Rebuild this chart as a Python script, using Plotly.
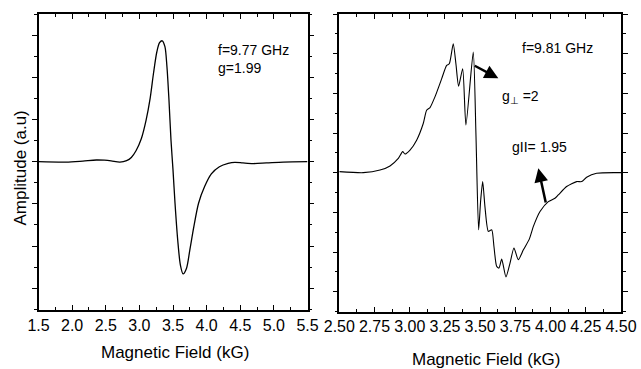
import plotly.graph_objects as go

# Left panel: f = 9.77 GHz
left_field = [1.50, 1.91, 2.16, 2.36, 2.48, 2.58, 2.71, 2.81, 2.88, 2.95, 3.03, 3.10, 3.16, 3.21,
              3.26, 3.30, 3.34, 3.38, 3.41, 3.44, 3.47, 3.50, 3.53, 3.57, 3.61, 3.65, 3.70, 3.75,
              3.81, 3.88, 3.97, 4.07, 4.19, 4.32, 4.42, 4.54, 4.69, 4.89, 5.14, 5.50]
left_amp = [0.00, -0.02, 0.03, 0.08, 0.07, 0.04, -0.02, 0.05, 0.20, 0.52, 1.10, 1.97, 3.00, 4.19,
            5.21, 5.64, 5.73, 5.45, 4.50, 2.92, 1.03, -0.39, -1.97, -3.71, -4.90, -5.32, -5.06, -4.19,
            -3.08, -1.97, -1.18, -0.58, -0.24, -0.08, -0.03, -0.06, -0.09, -0.06, -0.02, 0.00]

# Right panel: f = 9.81 GHz
right_field = [2.500, 2.670, 2.789, 2.860, 2.919, 2.950, 2.966, 3.002, 3.049, 3.096, 3.120, 3.144,
               3.179, 3.227, 3.262, 3.281, 3.309, 3.328, 3.347, 3.376, 3.399, 3.451, 3.470, 3.489,
               3.504, 3.518, 3.534, 3.558, 3.582, 3.598, 3.617, 3.634, 3.653, 3.683, 3.712, 3.740,
               3.771, 3.807, 3.849, 3.878, 3.925, 3.984, 4.031, 4.055, 4.114, 4.185, 4.221, 4.256,
               4.327, 4.500]
right_amp = [0.05, 0.00, 0.13, 0.34, 0.72, 1.06, 0.94, 1.14, 1.64, 2.48, 3.15, 3.28,
             3.82, 4.74, 5.41, 5.49, 6.50, 5.49, 4.36, 5.24, 2.40, 6.08, 1.98, -2.88,
             -1.37, -0.45, -1.71, -2.96, -2.88, -3.72, -4.72, -4.81, -4.36, -5.26, -4.56, -3.80,
             -4.39, -3.89, -3.35, -2.71, -1.96, -1.46, -1.29, -1.12, -0.70, -0.45, -0.45, -0.23,
             -0.03, 0.00]

FONT = "Liberation Sans, Arial, sans-serif"
W, H = 641, 369

fig = go.Figure()
fig.add_trace(go.Scatter(x=left_field, y=left_amp, mode="lines", xaxis="x", yaxis="y",
                         line=dict(color="black", width=1.3, shape="spline", smoothing=0.8),
                         showlegend=False, hoverinfo="skip"))
fig.add_trace(go.Scatter(x=right_field, y=right_amp, mode="lines", xaxis="x2", yaxis="y2",
                         line=dict(color="black", width=1.1, shape="spline", smoothing=0.6),
                         showlegend=False, hoverinfo="skip"))

common_x = dict(ticks="inside", ticklen=5, tickwidth=1, tickcolor="black", showline=True,
                linewidth=1.5, linecolor="black", mirror="allticks", showgrid=False,
                zeroline=False, tickangle=0, automargin=False,
                tickfont=dict(family=FONT, size=16, color="black"))
common_y = dict(ticks="outside", ticklen=5, tickwidth=1, tickcolor="black", showline=True,
                linewidth=1.5, linecolor="black", mirror="allticks", showgrid=False,
                zeroline=False, showticklabels=False, tick0=0, dtick=2, automargin=False,
                minor=dict(ticks="outside", ticklen=3, dtick=1, tick0=0, tickcolor="black",
                           showgrid=False))

fig.update_layout(
    width=W, height=H, margin=dict(l=0, r=0, t=0, b=0, pad=0, autoexpand=False),
    paper_bgcolor="white", plot_bgcolor="white",
    font=dict(family=FONT, color="black"),
    xaxis=dict(domain=[38.5 / W, 307.5 / W], range=[1.5, 5.5], tick0=1.5, dtick=0.5,
               tickformat=".1f", anchor="y",
               minor=dict(ticks="inside", ticklen=3, dtick=0.25, tick0=1.5, tickcolor="black",
                          showgrid=False), **common_x),
    yaxis=dict(domain=[(H - 310) / H, (H - 14) / H], range=[-7.03, 7.0], anchor="x", **common_y),
    xaxis2=dict(domain=[339.3 / W, 621 / W], range=[2.5, 4.5], tick0=2.5, dtick=0.25,
                tickformat=".2f", anchor="y2",
                minor=dict(ticks="inside", ticklen=3, dtick=0.125, tick0=2.5, tickcolor="black",
                           showgrid=False), **common_x),
    yaxis2=dict(domain=[(H - 311.5) / H, (H - 14) / H], range=[-7.0, 8.0], anchor="x2", **common_y),
)

ann_font = dict(family=FONT, size=14, color="black")
title_font = dict(family=FONT, size=17, color="black")

annotations = [
    # text labels inside panels
    dict(text="f=9.77 GHz<br>g=1.99", x=4.14, y=4.87, xref="x", yref="y", xanchor="left",
         yanchor="middle", align="left", showarrow=False, font=ann_font),
    dict(text="f=9.81 GHz", x=3.785, y=6.30, xref="x2", yref="y2", xanchor="left",
         yanchor="middle", showarrow=False, font=ann_font),
    dict(text="g<sub>⊥</sub> =2", x=3.643, y=3.83, xref="x2", yref="y2", xanchor="left",
         yanchor="middle", showarrow=False, font=ann_font),
    dict(text="gII= 1.95", x=3.714, y=1.31, xref="x2", yref="y2", xanchor="left",
         yanchor="middle", showarrow=False, font=ann_font),
    # arrows
    dict(x=3.629, y=4.76, ax=3.451, ay=5.43, xref="x2", yref="y2", axref="x2", ayref="y2",
         text="", showarrow=True, arrowhead=2, arrowsize=1.1, arrowwidth=2.5, arrowcolor="black"),
    dict(x=3.913, y=0.22, ax=3.968, ay=-1.58, xref="x2", yref="y2", axref="x2", ayref="y2",
         text="", showarrow=True, arrowhead=2, arrowsize=1.1, arrowwidth=2.5, arrowcolor="black"),
    # axis titles
    dict(text="Magnetic Field (kG)", x=175 / W, y=(H - 352) / H, xref="paper", yref="paper",
         xanchor="center", yanchor="middle", showarrow=False, font=title_font),
    dict(text="Magnetic Field (kG)", x=486 / W, y=(H - 359) / H, xref="paper", yref="paper",
         xanchor="center", yanchor="middle", showarrow=False, font=title_font),
    dict(text="Amplitude (a.u)", x=20 / W, y=(H - 168.5) / H, xref="paper", yref="paper",
         xanchor="center", yanchor="middle", showarrow=False, font=title_font, textangle=-90),
]
fig.update_layout(annotations=annotations)

fig.write_html("out.html", config={"displayModeBar": False},
               post_script="document.body.style.margin='0';document.body.style.padding='0';"
                           "document.body.style.overflow='hidden';")
